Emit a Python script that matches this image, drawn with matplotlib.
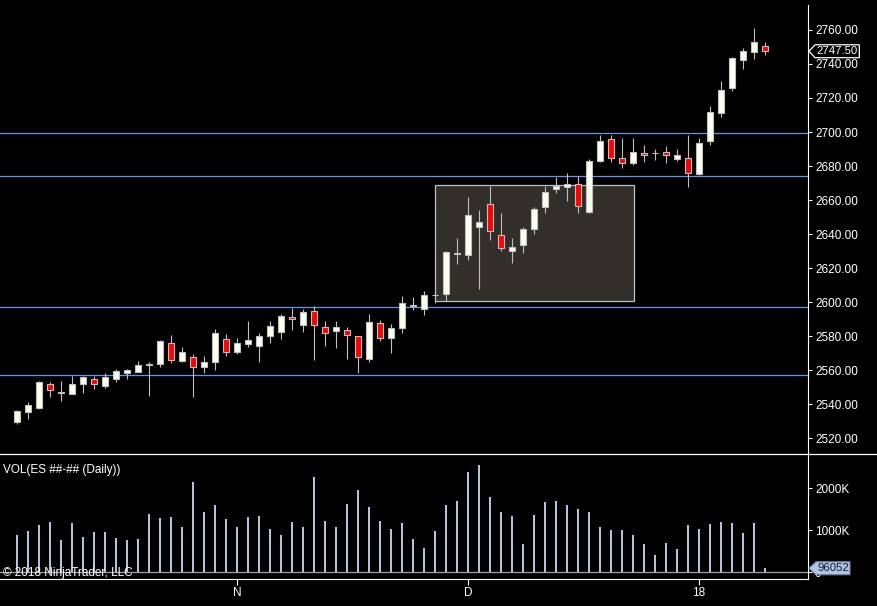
import matplotlib
matplotlib.use('Agg')
from matplotlib import pyplot as plt
from matplotlib.patches import Rectangle, Polygon
from matplotlib.lines import Line2D
import numpy as np

# daily ES candles (Oct 2017 - Jan 2018)
opens = [2529.5, 2535.5, 2537.75, 2551.5, 2546.5, 2546, 2551.5, 2555, 2550.75, 2555,
         2558.5, 2559, 2563, 2563.75, 2575.75, 2565.5, 2567.5, 2562, 2564.5, 2578.5,
         2570.75, 2575.5, 2574.25, 2580.25, 2582.5, 2591, 2586.5, 2594.75, 2585.25, 2583,
         2583.5, 2579.75, 2566.5, 2587.5, 2579, 2585, 2598.5, 2596, 2604, 2605,
         2628.25, 2627.75, 2644, 2657.5, 2639.25, 2629.75, 2633.5, 2642.75, 2655.75, 2666.25,
         2667.75, 2669.25, 2653, 2683, 2695.75, 2685, 2682, 2687.5, 2687.5, 2688,
         2684.25, 2685, 2675.5, 2694.5, 2711, 2725.75, 2742.25, 2747.25, 2750.5]
highs = [2536.5, 2541.25, 2553.5, 2552.75, 2553.5, 2556.5, 2556.5, 2556.5, 2558.5, 2560.5,
         2560.5, 2565.25, 2564.5, 2577.5, 2580.5, 2573.5, 2569.25, 2568.25, 2584, 2581.25,
         2578.75, 2588.75, 2581.75, 2588.75, 2593, 2596.5, 2596, 2597.5, 2588.75, 2588.75,
         2585.25, 2579.75, 2593, 2589.5, 2587, 2603.5, 2603, 2606.5, 2607, 2630,
         2637.5, 2661.75, 2654, 2668.25, 2652.5, 2637.5, 2644, 2656, 2668.5, 2673.75,
         2676, 2674, 2684, 2698.5, 2698.5, 2696.5, 2696.5, 2692.5, 2690, 2691.75,
         2690, 2698.5, 2696.25, 2715, 2730, 2744.25, 2749.25, 2761.25, 2752.75]
lows = [2528.25, 2531.25, 2537, 2544.25, 2542, 2545.75, 2546.5, 2548.75, 2549.5, 2553,
        2554.75, 2559, 2544.75, 2562, 2564.25, 2565, 2544.25, 2558.5, 2560, 2568.5,
        2569.5, 2573.75, 2565, 2576, 2578.5, 2583.75, 2582.5, 2566, 2574, 2573,
        2566.5, 2558.5, 2565, 2577.25, 2570.25, 2582, 2595.5, 2592.5, 2599.5, 2600.5,
        2622.5, 2624.75, 2607.75, 2636.5, 2630.25, 2623, 2629, 2640.25, 2652.5, 2664,
        2659.5, 2652.25, 2652.5, 2682.5, 2682.5, 2679, 2680.75, 2682.5, 2683.75, 2682,
        2683, 2667.75, 2675, 2692.5, 2709, 2724.25, 2737.25, 2743, 2745.5]
closes = [2536, 2539.5, 2552.75, 2548, 2546.5, 2551.5, 2555.75, 2552, 2555.75, 2559.25,
          2560, 2562.75, 2563, 2577, 2566, 2570.5, 2561.5, 2564.5, 2581.5, 2570.75,
          2575.75, 2577.5, 2579.75, 2586, 2591.75, 2589.75, 2594, 2586.5, 2582, 2585.25,
          2580.75, 2567.75, 2588, 2579, 2585, 2599.25, 2597.5, 2604, 2604, 2629.25,
          2628.25, 2651, 2647, 2641.5, 2631.5, 2632.25, 2642.75, 2654.5, 2665, 2668.5,
          2669.5, 2656.25, 2682.75, 2695, 2684.5, 2682, 2688, 2686.25, 2687.5, 2686.25,
          2686.5, 2676, 2693.5, 2711.5, 2724.5, 2743.5, 2747.5, 2752.75, 2747.5]
# volume in thousands of contracts
volumes = [888, 983, 1126, 1198, 769, 1174, 840, 959, 959, 817,
           769, 793, 1388, 1293, 1317, 1078, 2150, 1436, 1602, 1269,
           1078, 1317, 1340, 1031, 888, 1198, 1078, 2269, 1221, 1078,
           1626, 1959, 1555, 1221, 1031, 1174, 793, 579, 983, 1602,
           1697, 2388, 2555, 1793, 1436, 1340, 674, 1364, 1674, 1697,
           1602, 1507, 1436, 1078, 1007, 1007, 888, 674, 412, 698,
           555, 1126, 1031, 1150, 1198, 1174, 936, 1174, 96.052]

month_ticks = [20, 41, 62]
month_labels = ['N', 'D', '18']
price_ticks = list(range(2520, 2761, 20))
vol_ticks = [0, 1000, 2000]
vol_labels = ['0', '1000K', '2000K']

levels = [2699.4, 2674.1, 2597.1, 2557.1]
box_x = [38, 56.1]
box_y = [2600.6, 2668.8]
last_price = 2747.5
last_volume = 96.052

W, H = 877, 606
fig = plt.figure(figsize=(W / 100, H / 100), dpi=100, facecolor='black')
plt.rcParams['font.family'] = ['Liberation Sans', 'DejaVu Sans']

ax1 = fig.add_axes([0, (H - 453.5) / H, 808 / W, (453.5 - 5) / H])
ax2 = fig.add_axes([0, (H - 579) / H, 808 / W, (579 - 453.5) / H])

x = np.arange(len(closes))
o = np.array(opens)
c = np.array(closes)
up = c >= o

for ax in (ax1, ax2):
    ax.set_facecolor('black')
    for s in ('left', 'top'):
        ax.spines[s].set_visible(False)
    ax.spines['right'].set_color('white')
    ax.spines['bottom'].set_color('white')
    ax.yaxis.tick_right()
    ax.tick_params(axis='y', colors='white', labelsize=8.5, length=3, width=0.8, pad=2)
    ax.set_xlim(-1.52, 71.9)

# price panel
ax1.set_ylim(2510.9, 2774.7)
ax1.set_yticks(price_ticks)
ax1.set_yticklabels(['%.2f' % p for p in price_ticks])
ax1.set_xticks([])
ax1.spines['bottom'].set_visible(False)

for lv in levels:
    ax1.axhline(lv, color='#6495ed', lw=0.9, zorder=1)

ax1.add_patch(Rectangle((box_x[0], box_y[0]), box_x[1] - box_x[0], box_y[1] - box_y[0],
                        facecolor='#322e2a', edgecolor='#c0c0c0', lw=0.9, zorder=1.5))

ax1.vlines(x, lows, highs, color='#c0c0c0', lw=0.8, zorder=2)
body_bottom = np.minimum(o, c)
body_h = np.maximum(np.abs(c - o), 0.3)
ax1.bar(x, body_h, bottom=body_bottom, width=0.56,
        color=np.where(up, '#fffff0', '#ff0000'), edgecolor='#c0c0c0', linewidth=0.8, zorder=3)

# last price marker
ya = ax1.get_yaxis_transform()
hp = 3.8
ax1.add_patch(Polygon([(1.0012, last_price), (1.0087, last_price + hp), (1.0635, last_price + hp),
                       (1.0635, last_price - hp), (1.0087, last_price - hp)],
                      closed=True, transform=ya, facecolor='black', edgecolor='white',
                      lw=0.9, clip_on=False, zorder=6))
ax1.text(1.0365, last_price, '%.2f' % last_price, transform=ya, color='white', fontsize=8.2,
         ha='center', va='center', clip_on=False, zorder=7)

# volume panel
ax2.set_ylim(-160, 2829)
ax2.bar(x, volumes, width=0.15, color='#b0c4de', zorder=2)
ax2.axhline(0, color='#a0a0a0', lw=0.9, zorder=1)
ax2.set_yticks(vol_ticks)
ax2.set_yticklabels(vol_labels)
ax2.set_xticks(month_ticks)
ax2.set_xticklabels(month_labels)
ax2.tick_params(axis='x', colors='white', labelsize=8.5, length=4, width=0.8, pad=2)

ya2 = ax2.get_yaxis_transform()
hv = 155
ax2.add_patch(Polygon([(1.0012, last_volume), (1.0099, last_volume + hv), (1.0520, last_volume + hv),
                       (1.0520, last_volume - hv), (1.0099, last_volume - hv)],
                      closed=True, transform=ya2, facecolor='#b0c4de', edgecolor='#7080a0',
                      lw=0.8, clip_on=False, zorder=6))
ax2.text(1.0312, last_volume, '%d' % round(last_volume * 1000), transform=ya2, color='#101838',
         fontsize=8.2, ha='center', va='center', clip_on=False, zorder=7)

ax2.text(3 / 808, 0.865, 'VOL(ES ##-## (Daily))', transform=ax2.transAxes, color='white',
         fontsize=8.5, ha='left', va='center')
ax2.text(3 / 808, 0.05, '\u00a9 2018 NinjaTrader, LLC', transform=ax2.transAxes, color='white',
         fontsize=8.5, ha='left', va='center', zorder=5)

# separator between panels across the full width
fig.add_artist(Line2D([0, 1], [(H - 453.5) / H] * 2, color='white', lw=0.9,
                      transform=fig.transFigure))

fig.savefig('out.png', dpi=100, facecolor='black')
